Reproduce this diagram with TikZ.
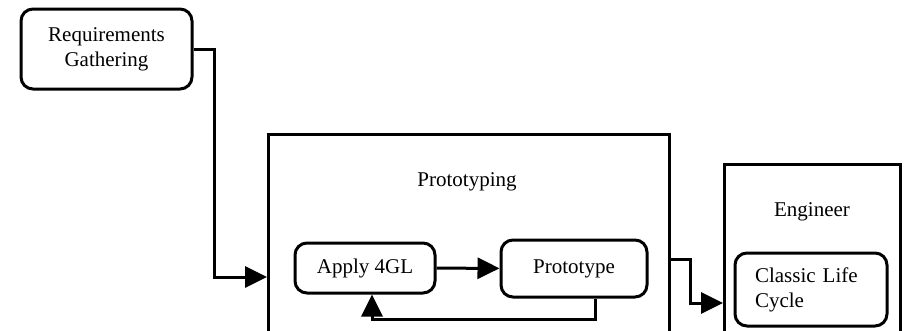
\documentclass[tikz,border=0pt]{standalone}
\usepackage{fontspec}
\setmainfont{Liberation Serif}
\usetikzlibrary{positioning, arrows.meta}

\tikzset{
  box/.style={draw, line width=3pt, rounded corners=12pt, inner sep=0pt, align=center},
  frame/.style={draw, line width=3pt, inner sep=0pt, anchor=north west},
  conn/.style={line width=3pt, -{Triangle[length=22pt,width=21pt]}}
}

\begin{document}
\begin{tikzpicture}[x=1pt, y=-1pt, font=\fontsize{21}{25}\selectfont]
\clip (0,0) rectangle (904,330);
\useasboundingbox (0,0) rectangle (904,330);
                % outer frames
                \node[frame, minimum width=401pt, minimum height=220pt] (proto) at (267,133) {};
                \node[frame, minimum width=176pt, minimum height=190pt] (eng) at (723,163) {};
                \node at (467,182) {Prototyping};
                \node at (812,212) {Engineer};
                % steps
                \node[box, minimum width=171pt, minimum height=80pt] (req) at (106.5,49) {Requirements\\Gathering};
                \node[box, minimum width=140pt, minimum height=50pt] (apply) at (365,268) {Apply 4GL};
                \node[box, minimum width=146pt, minimum height=57pt] (type) at (574,268.5) {Prototype};
                \node[box, minimum width=152pt, minimum height=73pt, text width=112pt, inner xsep=20pt, align=left] (life) at (811,289.5) {Classic Life\\Cycle};
                \coordinate (in1) at (267,277);
                \coordinate (out1) at (668,259);
                \coordinate (in2) at (723,303);
                \draw[conn] (req.east) -- ++(21,0) |- (in1);
                \draw[conn] (apply) -- (type);
                \draw[conn] ([xshift=21pt]type.south) -- ++(0,21) -| ([xshift=7pt]apply.south);
                \draw[conn] (out1) -- ++(22,0) |- (in2);
            \end{tikzpicture}
\end{document}
